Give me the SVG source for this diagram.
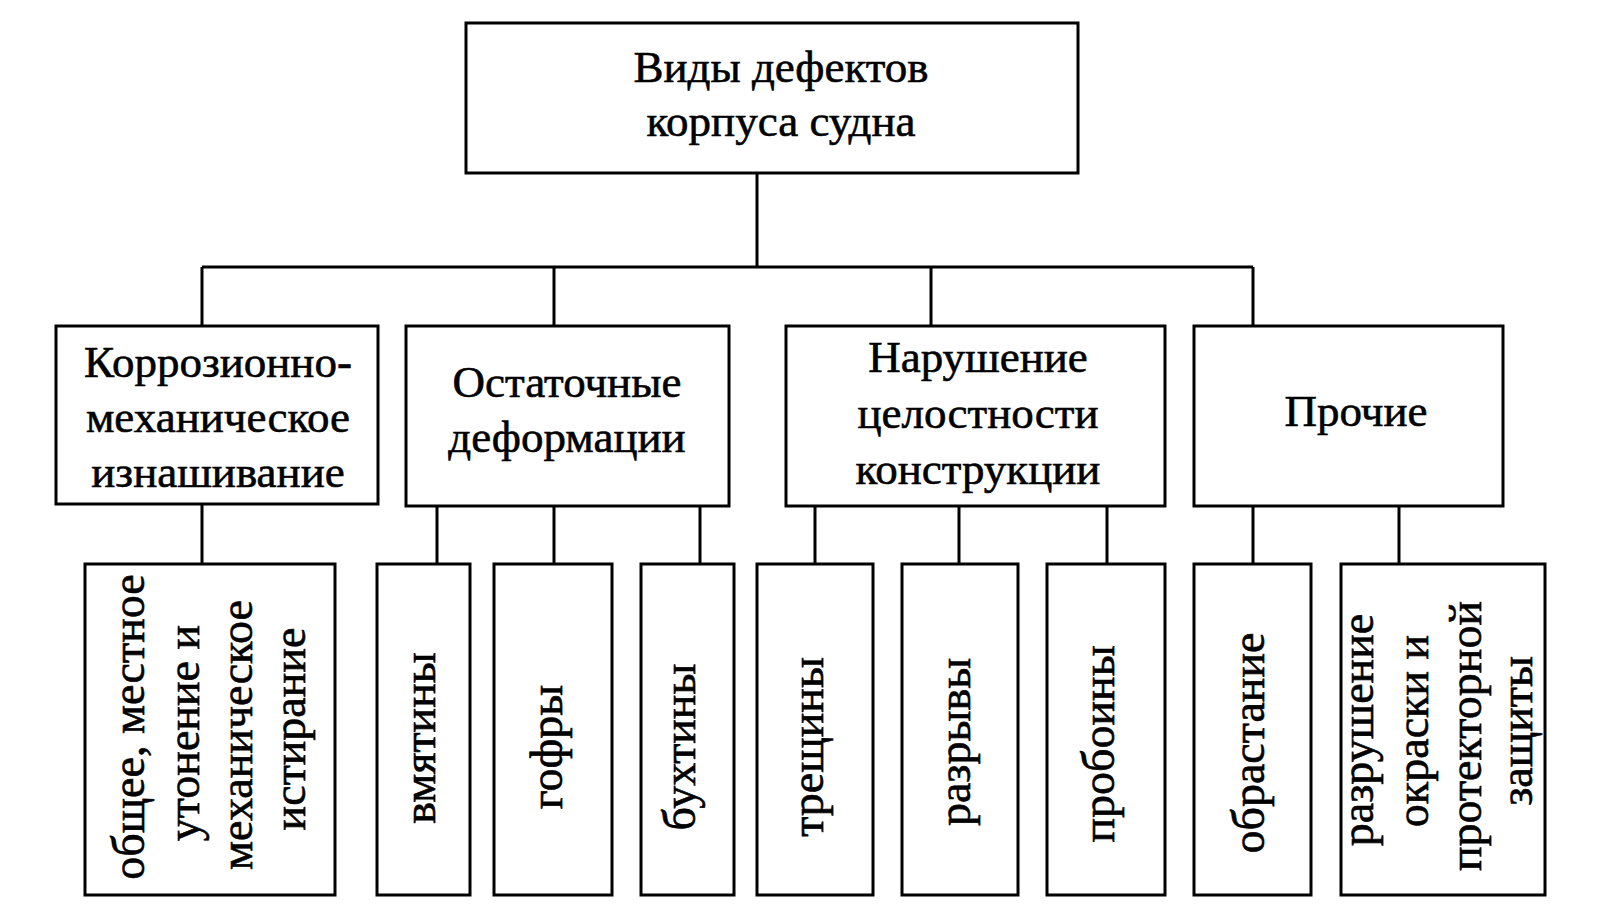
<svg xmlns="http://www.w3.org/2000/svg" width="1600" height="922" viewBox="0 0 1600 922">
<style>
.b{fill:#fff;stroke:#000;stroke-width:3}
.c{stroke:#000;stroke-width:3;fill:none}
text{font-family:"Liberation Serif","Times New Roman",serif;font-size:45px;fill:#000;stroke:#000;stroke-width:0.6;text-anchor:middle}
.v{font-size:46px}
</style>
<rect width="1600" height="922" fill="#fff"/>
<g id="connectors">
<path class="c" d="M757 173V267M202 267H1253M202 267V326M554 267V326M931 267V326M1253 267V326"/>
<path class="c" d="M202 504V564M437 506V564M554 506V564M700 506V564M815 506V564M959 506V564M1107 506V564M1253 506V564M1399 506V564"/>
</g>
<g id="root"><rect class="b" x="466" y="23" width="612" height="150"/>
<text x="781" y="82">Виды дефектов</text><text x="781" y="136">корпуса судна</text></g>
<g id="n1"><rect class="b" x="56" y="326" width="322" height="178"/>
<text x="218" y="377">Коррозионно-</text><text x="218" y="432">механическое</text><text x="218" y="487">изнашивание</text></g>
<g id="n2"><rect class="b" x="406" y="326" width="323" height="180"/>
<text x="567" y="397">Остаточные</text><text x="567" y="452">деформации</text></g>
<g id="n3"><rect class="b" x="786" y="326" width="379" height="180"/>
<text x="978" y="372">Нарушение</text><text x="978" y="428">целостности</text><text x="978" y="484">конструкции</text></g>
<g id="n4"><rect class="b" x="1194" y="326" width="309" height="180"/>
<text x="1356" y="426">Прочие</text></g>
<g id="l1"><rect class="b" x="85" y="564" width="250" height="331"/>
<text class="v" transform="translate(144 727) rotate(-90)">общее, местное</text>
<text class="v" transform="translate(199 733) rotate(-90)">утонение и</text>
<text class="v" transform="translate(252 735) rotate(-90)">механическое</text>
<text class="v" transform="translate(305 729) rotate(-90)">истирание</text></g>
<g id="l2"><rect class="b" x="377" y="564" width="93" height="331"/>
<text class="v" transform="translate(435 738) rotate(-90)">вмятины</text></g>
<g id="l3"><rect class="b" x="494" y="564" width="118" height="331"/>
<text class="v" transform="translate(562 747) rotate(-90)">гофры</text></g>
<g id="l4"><rect class="b" x="641" y="564" width="93" height="331"/>
<text class="v" transform="translate(695 747) rotate(-90)">бухтины</text></g>
<g id="l5"><rect class="b" x="757" y="564" width="116" height="331"/>
<text class="v" transform="translate(823 747) rotate(-90)">трещины</text></g>
<g id="l6"><rect class="b" x="902" y="564" width="116" height="331"/>
<text class="v" transform="translate(970 742) rotate(-90)">разрывы</text></g>
<g id="l7"><rect class="b" x="1047" y="564" width="118" height="331"/>
<text class="v" transform="translate(1114 744) rotate(-90)">пробоины</text></g>
<g id="l8"><rect class="b" x="1194" y="564" width="117" height="331"/>
<text class="v" transform="translate(1264 743) rotate(-90)">обрастание</text></g>
<g id="l9"><rect class="b" x="1341" y="564" width="204" height="331"/>
<text class="v" transform="translate(1373 730) rotate(-90)">разрушение</text>
<text class="v" transform="translate(1428 731) rotate(-90)">окраски и</text>
<text class="v" transform="translate(1481 736) rotate(-90)">протекторной</text>
<text class="v" transform="translate(1532 731) rotate(-90)">защиты</text></g>
</svg>
